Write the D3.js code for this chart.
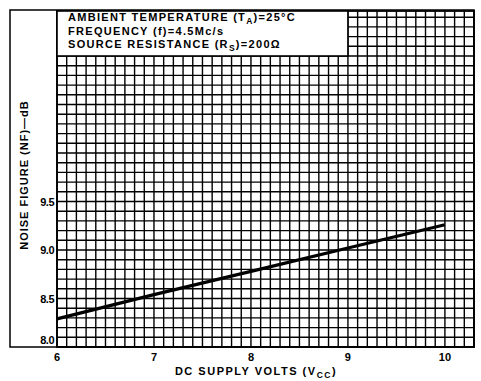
<!DOCTYPE html>
<html><head><meta charset="utf-8">
<script src="https://cdn.jsdelivr.net/npm/d3@7"></script>
<style>
body{margin:0;background:#fff;}
text{font-family:"Liberation Sans",Arial,sans-serif;font-weight:bold;fill:#000;}
</style></head>
<body><svg id="c" width="481" height="381"></svg>
<script>
const xTicks = [6, 7, 8, 9, 10];
const yTicks = [8.0, 8.5, 9.0, 9.5];
const yTickLabels = ["8.0", "8.5", "9.0", "9.5"];
const supplyVolts = [6, 7, 8, 9, 10];
const noiseFigure = [8.29, 8.54, 8.78, 9.02, 9.26];
const legendLines = [
  ["AMBIENT TEMPERATURE (T", "A", ")=25°C"],
  ["FREQUENCY (f)=4.5Mc/s", "", ""],
  ["SOURCE RESISTANCE (R", "S", ")=200Ω"]
];

const svg = d3.select("#c");
const L = 57, R = 474, T = 11, B = 347;
const x = d3.scaleLinear().domain([6, 10.3]).range([L, R]);
const y = d3.scaleLinear().domain([8, 8 + (B - T) / 97]).range([B, T]);

// outer frame
svg.append("rect").attr("x", 10).attr("y", 10).attr("width", R - 10).attr("height", B - 10)
  .attr("fill", "none").attr("stroke", "#000").attr("stroke-width", 1.5);

// grid
const g = svg.append("g").attr("stroke", "#000").attr("stroke-width", 1.4);
const xs = d3.range(60, 104).map(d => d / 10);
const ys = d3.range(80, 115).map(d => d / 10);
g.selectAll(".v").data(xs).join("line")
  .attr("x1", d => x(d)).attr("x2", d => x(d)).attr("y1", T).attr("y2", B);
g.selectAll(".h").data(ys).join("line")
  .attr("x1", L).attr("x2", R).attr("y1", d => y(d)).attr("y2", d => y(d));
svg.append("rect").attr("x", L).attr("y", T).attr("width", R - L).attr("height", B - T)
  .attr("fill", "none").attr("stroke", "#000").attr("stroke-width", 1.8);

// legend box
const bx0 = x(6), bx1 = x(9), by0 = T, by1 = y(11);
svg.append("rect").attr("x", bx0).attr("y", by0).attr("width", bx1 - bx0).attr("height", by1 - by0)
  .attr("fill", "#fff").attr("stroke", "#000").attr("stroke-width", 1.6);
legendLines.forEach((ln, i) => {
  const t = svg.append("text").attr("x", 68).attr("y", 21 + i * 13.5)
    .attr("font-size", 11).attr("letter-spacing", 1.3);
  t.append("tspan").text(ln[0]);
  if (ln[1]) {
    t.append("tspan").attr("dy", 3).attr("font-size", 8.5).text(ln[1]);
    t.append("tspan").attr("dy", -3).text(ln[2]);
  }
});

// data line
svg.append("path").datum(supplyVolts.map((v, i) => [v, noiseFigure[i]]))
  .attr("d", d3.line().x(d => x(d[0])).y(d => y(d[1])))
  .attr("fill", "none").attr("stroke", "#000").attr("stroke-width", 3.2);

// x ticks
svg.selectAll(".xt").data(xTicks).join("text")
  .attr("x", d => x(d)).attr("y", 361).attr("text-anchor", "middle")
  .attr("font-size", 11).text(d => d);
// y ticks
svg.selectAll(".yt").data(yTicks).join("text")
  .attr("x", 54).attr("y", (d, i) => y(d) + (i === 0 ? -3 : 4)).attr("text-anchor", "end")
  .attr("font-size", 11).attr("letter-spacing", -0.5).text((d, i) => yTickLabels[i]);

// axis titles
const xt = svg.append("text").attr("x", 256).attr("y", 375).attr("text-anchor", "middle")
  .attr("font-size", 11).attr("letter-spacing", 1.5);
xt.append("tspan").text("DC SUPPLY VOLTS (V");
xt.append("tspan").attr("dy", 3).attr("font-size", 8.5).text("CC");
xt.append("tspan").attr("dy", -3).text(")");

svg.append("text").attr("transform", "translate(28,175) rotate(-90)").attr("text-anchor", "middle")
  .attr("font-size", 11).attr("letter-spacing", 1.0).text("NOISE FIGURE (NF)—dB");
</script></body></html>
